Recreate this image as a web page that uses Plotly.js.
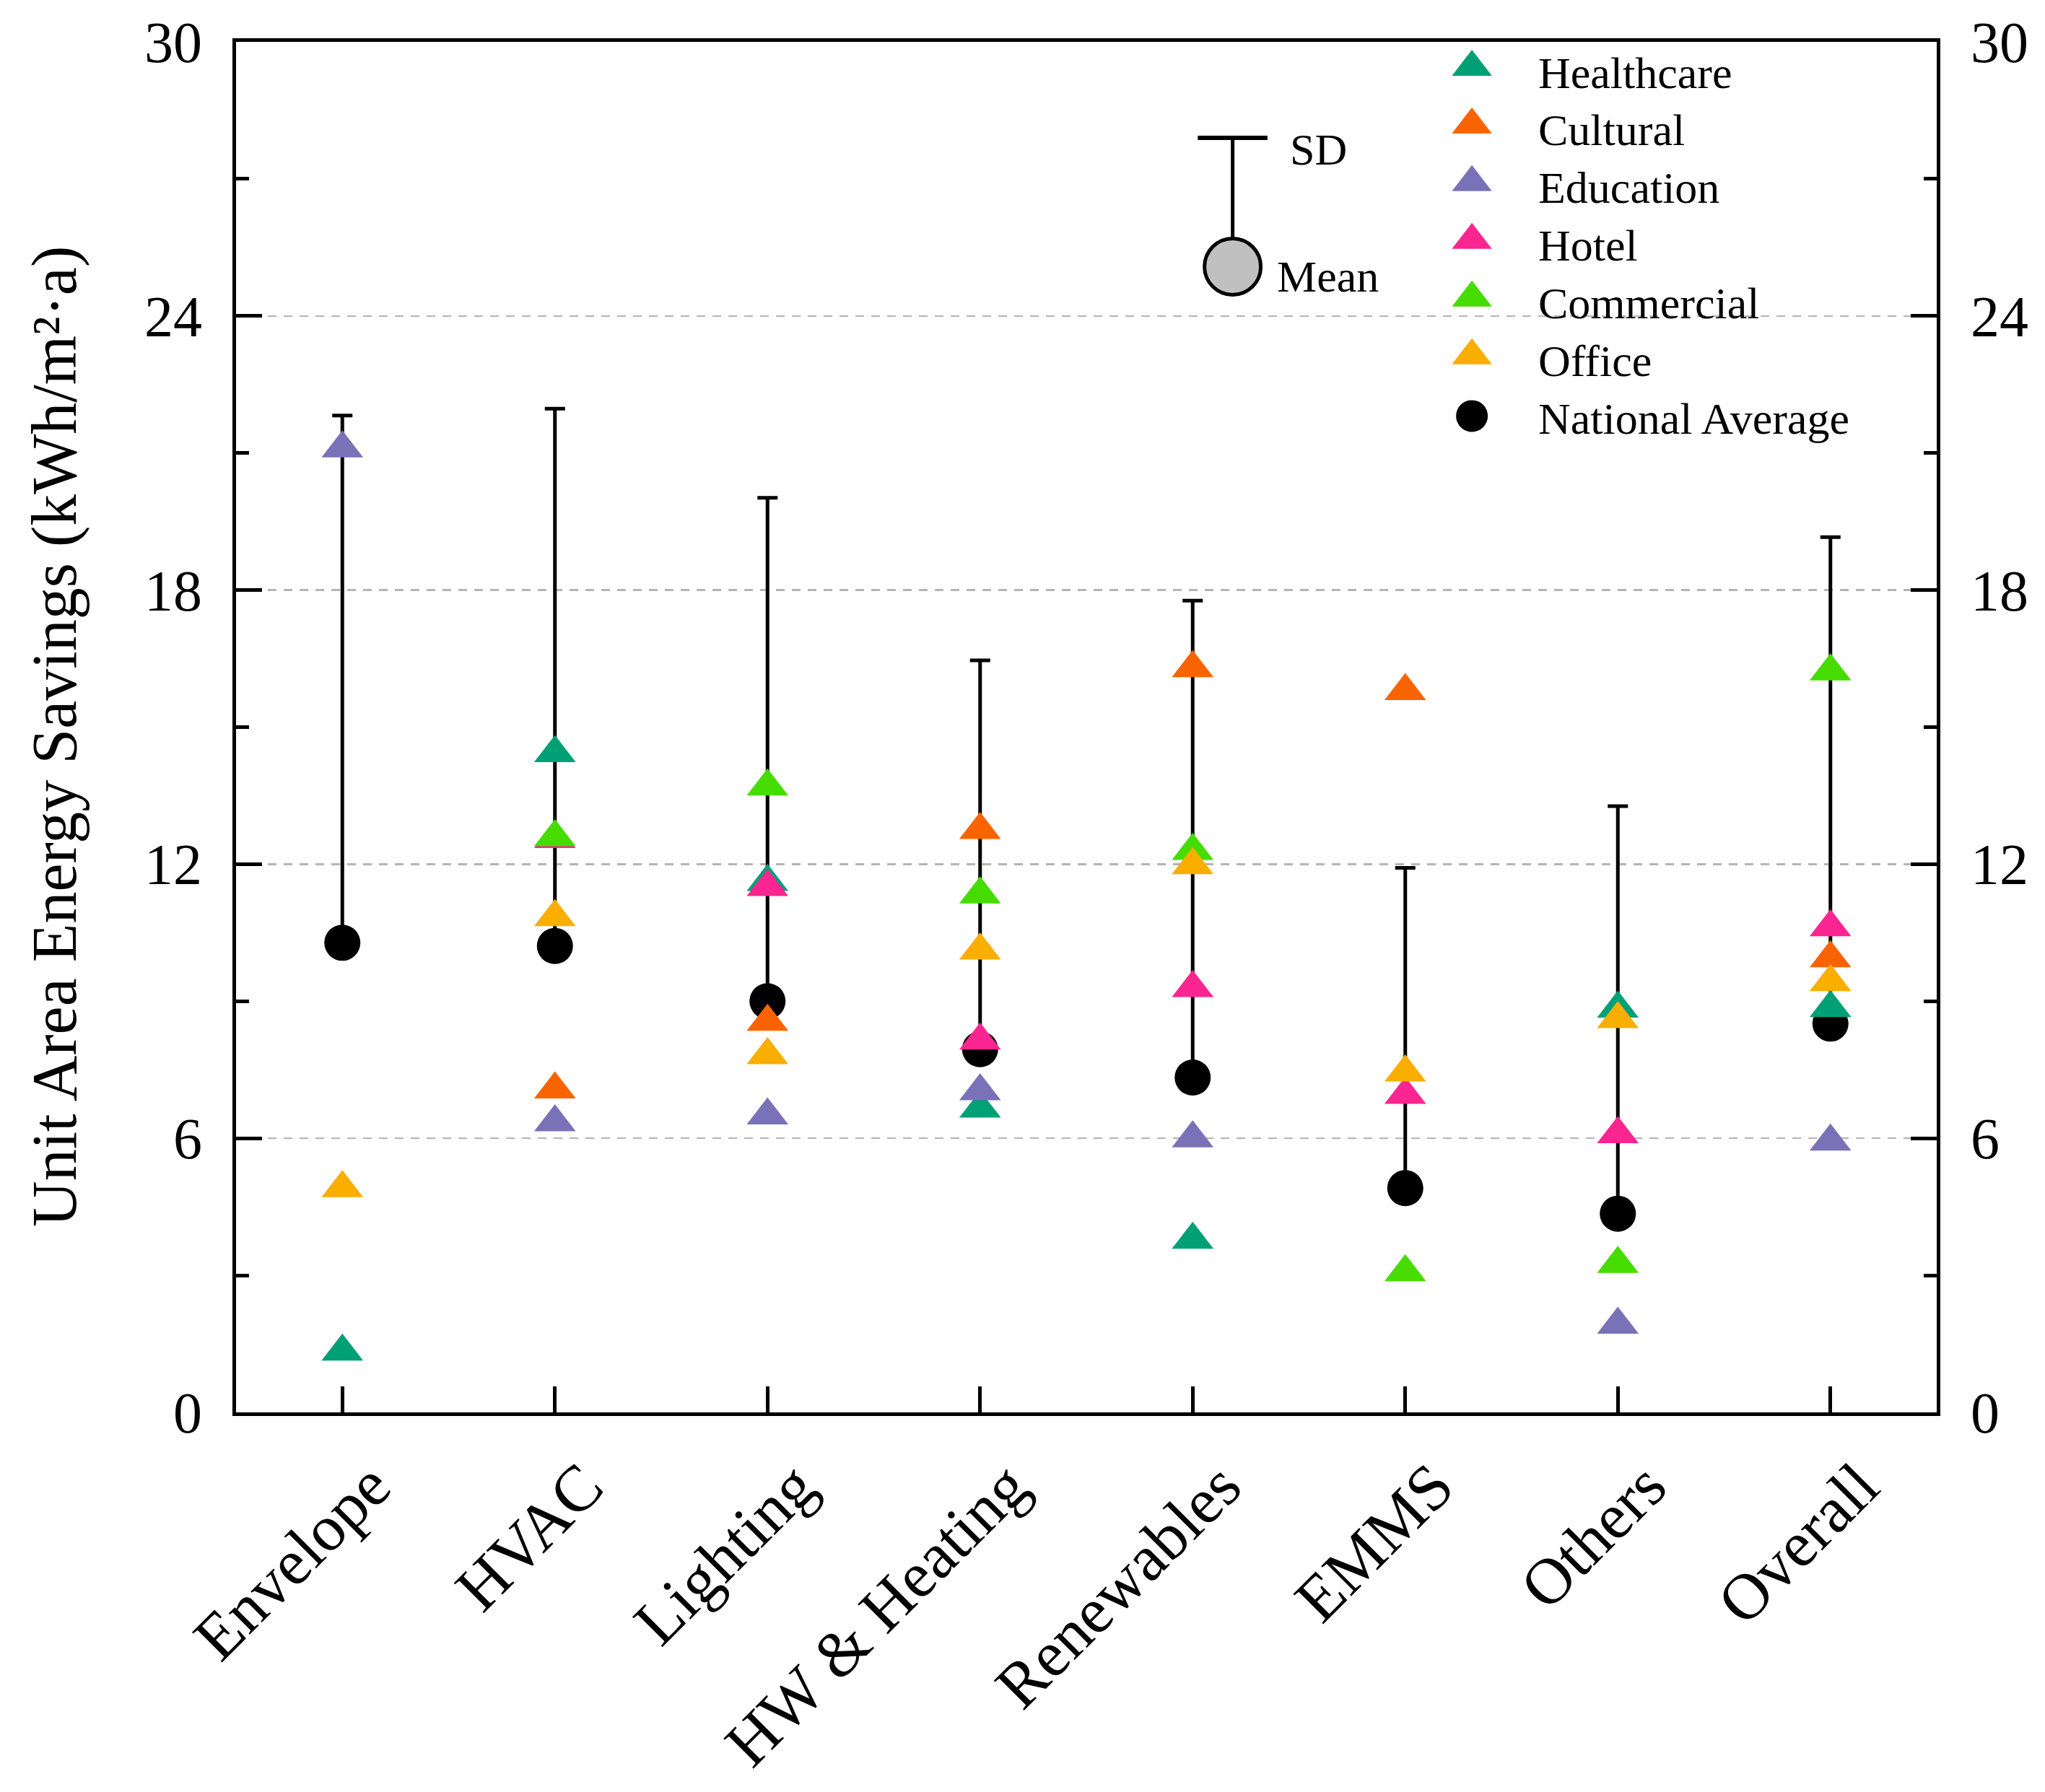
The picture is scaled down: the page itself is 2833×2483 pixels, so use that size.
<!DOCTYPE html>
<html>
<head>
<meta charset="utf-8">
<script src="https://cdn.plot.ly/plotly-3.0.1.min.js"></script>
<style>
  html, body { margin: 0; padding: 0; background: #fff; }
  #chart { width: 2833px; height: 2483px; }
</style>
</head>
<body>
<div id="chart"></div>
<script>
// categories (retrofit measures)
const measures = ['Envelope', 'HVAC', 'Lighting', 'HW & Heating', 'Renewables', 'EMMS', 'Others', 'Overall'];

// national average and its standard deviation (only upper bar drawn)
const nationalMean = [10.28, 10.21, 9.00, 7.95, 7.33, 4.91, 4.35, 8.51];
const nationalSD   = [11.54, 11.76, 11.02, 8.51, 10.44, 7.01, 8.92, 10.65];

// building types
const healthcare = [1.33, 14.43, 11.61, 6.65, 3.78, null, 8.84, 8.85];
const cultural   = [null, 7.07, 8.55, 12.75, 16.29, 15.79, null, 9.94];
const education  = [21.10, 6.35, 6.50, 7.03, 6.00, null, 1.92, 5.93];
const hotel      = [null, 12.55, 11.50, 8.14, 9.29, 6.95, 6.09, 10.62];
const commercial = [null, 12.59, 13.70, 11.34, 12.29, 3.07, 3.25, 16.22];
const office     = [4.91, 10.84, 7.82, 10.11, 11.98, 7.44, 8.61, 9.42];

const seriesNames  = ['Healthcare', 'Cultural', 'Education', 'Hotel', 'Commercial', 'Office'];
const seriesValues = [healthcare, cultural, education, hotel, commercial, office];
const seriesColors = ['#00a077', '#fa6400', '#7a72b8', '#fa2590', '#46dc00', '#f9ae00'];

const FONT = 'Liberation Serif, Times New Roman, serif';

const traces = [];

// mean circles with SD bars first so the triangles sit on top
traces.push({
  x: measures,
  y: nationalMean,
  type: 'scatter',
  mode: 'markers',
  name: 'National Average',
  marker: {symbol: 'circle', size: 50, color: '#000'},
  error_y: {
    type: 'data', symmetric: false,
    array: nationalSD,
    arrayminus: nationalSD.map(() => 0),
    color: '#000', thickness: 5, width: 14
  },
  showlegend: false,
  hoverinfo: 'x+y'
});

seriesNames.forEach((name, i) => {
  traces.push({
    x: measures,
    y: seriesValues[i],
    type: 'scatter',
    mode: 'markers',
    name: name,
    marker: {symbol: 'triangle-up', size: 50, color: seriesColors[i], line: {width: 0}},
    showlegend: false
  });
});

// dummy trace so the right hand axis gets drawn
traces.push({
  x: measures, y: nationalMean, yaxis: 'y2',
  type: 'scatter', mode: 'markers',
  marker: {opacity: 0}, hoverinfo: 'skip', showlegend: false
});

// custom legend on an overlay 0..1 frame (plotly caps legend symbol size)
const legendX = 0.7267, legendTextX = 0.765;
const legendTop = 0.9816, legendStep = 0.0421;
const annotations = [];
const shapes = [];

const legendLabels = seriesNames.concat(['National Average']);
legendLabels.forEach((label, i) => {
  const yy = legendTop - i * legendStep;
  const isMean = i === seriesNames.length;
  traces.push({
    x: [legendX], y: [isMean ? yy - 0.002 : yy],
    xaxis: 'x2', yaxis: 'y3',
    type: 'scatter', mode: 'markers',
    marker: isMean
      ? {symbol: 'circle', size: 44, color: '#000'}
      : {symbol: 'triangle-up', size: 48, color: seriesColors[i]},
    hoverinfo: 'skip', showlegend: false
  });
  annotations.push({
    xref: 'x2', yref: 'y3', x: legendTextX, y: yy - 0.004,
    text: label, showarrow: false, xanchor: 'left', yanchor: 'middle',
    font: {family: FONT, size: 62, color: '#000'}
  });
});

// SD / Mean key: grey circle, stem and cap
const keyX = 0.586, keyY = 0.836, keyTop = 0.930, keyCap = 0.0205;
traces.push({
  x: [keyX], y: [keyY],
  xaxis: 'x2', yaxis: 'y3',
  type: 'scatter', mode: 'markers',
  marker: {symbol: 'circle', size: 78, color: '#c0c0c0', line: {color: '#000', width: 5}},
  hoverinfo: 'skip', showlegend: false
});
shapes.push({type: 'line', xref: 'paper', yref: 'paper', x0: keyX, x1: keyX, y0: keyY + 0.02, y1: keyTop,
             line: {color: '#000', width: 5}});
shapes.push({type: 'line', xref: 'paper', yref: 'paper', x0: keyX - keyCap, x1: keyX + keyCap, y0: keyTop, y1: keyTop,
             line: {color: '#000', width: 6}});
annotations.push({
  xref: 'x2', yref: 'y3', x: 0.619, y: 0.9215, text: 'SD', showarrow: false,
  xanchor: 'left', yanchor: 'middle', font: {family: FONT, size: 62, color: '#000'}
});
annotations.push({
  xref: 'x2', yref: 'y3', x: 0.611, y: 0.829, text: 'Mean', showarrow: false,
  xanchor: 'left', yanchor: 'middle', font: {family: FONT, size: 62, color: '#000'}
});

// y axis title
annotations.push({
  xref: 'paper', yref: 'paper', x: -0.1065, y: 0.493,
  text: 'Unit Area Energy Savings (kWh/m²·a)', showarrow: false, textangle: -90,
  xanchor: 'center', yanchor: 'middle',
  font: {family: FONT, size: 88, color: '#000'}
});

const yTicks = [0, 6, 12, 18, 24, 30];

const yCommon = {
  range: [0, 30],
  tickmode: 'array', tickvals: yTicks, ticktext: yTicks.map(String),
  ticks: 'inside', ticklen: 36, tickwidth: 5, tickcolor: '#000',
  minor: {tickmode: 'array', tickvals: [3, 9, 15, 21, 27], ticks: 'inside', ticklen: 18, tickwidth: 5, tickcolor: '#000', showgrid: false},
  showline: true, linewidth: 5, linecolor: '#000',
  tickfont: {family: FONT, size: 80, color: '#000'},
  ticklabelstandoff: 26,
  zeroline: false, fixedrange: true
};

const layout = {
  width: 2833, height: 2483,
  margin: {l: 327, r: 150, t: 58, b: 526},
  paper_bgcolor: '#fff', plot_bgcolor: '#fff',
  font: {family: FONT, color: '#000'},
  showlegend: false,
  xaxis: {
    type: 'category', range: [-0.5, 7.5],
    ticks: 'inside', ticklen: 36, tickwidth: 5, tickcolor: '#000',
    showline: true, linewidth: 5, linecolor: '#000', mirror: true,
    showgrid: false, zeroline: false,
    tickangle: -45,
    tickfont: {family: FONT, size: 90, color: '#000'},
    ticklabelstandoff: 8,
    ticklabelshift: 40,
    fixedrange: true
  },
  yaxis: Object.assign({}, yCommon, {
    side: 'left',
    showgrid: true, gridcolor: '#b4b4b4', gridwidth: 2.5, griddash: '12px,10px'
  }),
  yaxis2: Object.assign({}, yCommon, {
    overlaying: 'y', side: 'right', showgrid: false
  }),
  xaxis2: {overlaying: 'x', anchor: 'y3', range: [0, 1], visible: false, fixedrange: true},
  yaxis3: {overlaying: 'y', anchor: 'x2', range: [0, 1], visible: false, fixedrange: true},
  shapes: shapes,
  annotations: annotations
};

Plotly.newPlot('chart', traces, layout, {displayModeBar: false, staticPlot: true});
</script>
</body>
</html>
